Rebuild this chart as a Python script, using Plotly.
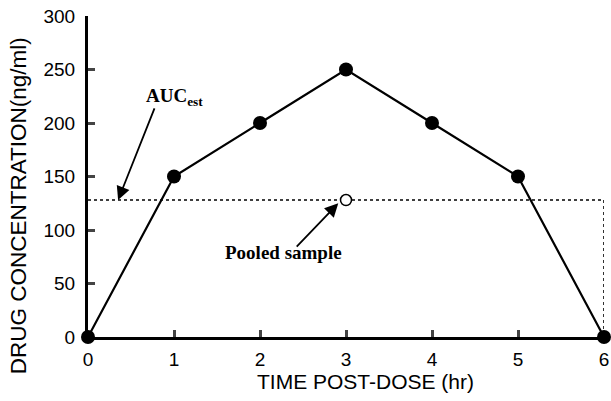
import plotly.graph_objects as go

time_hr = [0, 1, 2, 3, 4, 5, 6]
conc = [0, 150, 200, 250, 200, 150, 0]
pooled_time = [3]
pooled_conc = [128]
auc_x = [0, 6, 6]
auc_y = [128, 128, 0]
x_ticks = [0, 1, 2, 3, 4, 5, 6]
y_ticks = [0, 50, 100, 150, 200, 250, 300]

fig = go.Figure()
fig.add_trace(go.Scatter(x=auc_x, y=auc_y, mode="lines",
                         line=dict(color="black", width=1.6, dash="dot"),
                         showlegend=False, cliponaxis=False))
fig.add_trace(go.Scatter(x=time_hr, y=conc, mode="lines+markers",
                         line=dict(color="black", width=2.2),
                         marker=dict(color="black", size=14),
                         showlegend=False, cliponaxis=False))
fig.add_trace(go.Scatter(x=pooled_time, y=pooled_conc, mode="markers",
                         marker=dict(color="white", size=11, line=dict(color="black", width=1.5)),
                         showlegend=False, cliponaxis=False))

serif = "Liberation Serif, Times New Roman, serif"
sans = "Liberation Sans, Arial, sans-serif"
fig.add_annotation(x=0.35, y=128, ax=0.78, ay=215, xref="x", yref="y", axref="x", ayref="y",
                   text="", showarrow=True, arrowhead=2, arrowsize=1.5, arrowwidth=1.8,
                   arrowcolor="black")
fig.add_annotation(x=1.01, y=224, xref="x", yref="y", text="<b>AUC<sub>est</sub></b>",
                   showarrow=False, font=dict(family=serif, size=19, color="black"))
fig.add_annotation(x=2.91, y=125, ax=2.41, ay=83, xref="x", yref="y", axref="x", ayref="y",
                   text="", showarrow=True, arrowhead=2, arrowsize=1.5, arrowwidth=1.8,
                   arrowcolor="black")
fig.add_annotation(x=2.27, y=79, xref="x", yref="y", text="<b>Pooled sample</b>",
                   showarrow=False, font=dict(family=serif, size=19, color="black"))

# axis titles placed as paper annotations to match reference offsets
fig.add_annotation(x=0.537, y=-0.140, xref="paper", yref="paper", xanchor="center", yanchor="middle",
                   text="TIME POST-DOSE (hr)",
                   showarrow=False, font=dict(family=sans, size=21, color="black"))
fig.add_annotation(x=-0.134, y=0.41, xref="paper", yref="paper", xanchor="center", yanchor="middle",
                   text="DRUG CONCENTRATION(ng/ml)",
                   textangle=-90, showarrow=False, font=dict(family=sans, size=22.5, color="black"))

axis_font = dict(family=sans, size=19, color="black")
fig.update_layout(
    width=611, height=401,
    margin=dict(l=88, r=7, t=16, b=64),
    plot_bgcolor="white", paper_bgcolor="white",
    hovermode=False,
    xaxis=dict(range=[0, 6], tickvals=x_ticks, ticks="inside", ticklen=7, tickwidth=2.5,
               showline=True, linecolor="black", linewidth=3, showgrid=False, zeroline=False,
               tickfont=axis_font, automargin=False, ticklabelstandoff=3,
               ticklabeloverflow="allow"),
    yaxis=dict(range=[0, 300], tickvals=y_ticks, ticks="inside", ticklen=7, tickwidth=2.5,
               showline=True, linecolor="black", linewidth=3, showgrid=False, zeroline=False,
               tickfont=axis_font, automargin=False, ticklabelstandoff=6,
               ticklabeloverflow="allow"),
)
# remove the browser's default 8px page margin so the figure fills the window exactly
fig.write_html("out.html", config={"displayModeBar": False},
               post_script="document.body.style.margin='0';document.body.style.overflow='hidden';")
